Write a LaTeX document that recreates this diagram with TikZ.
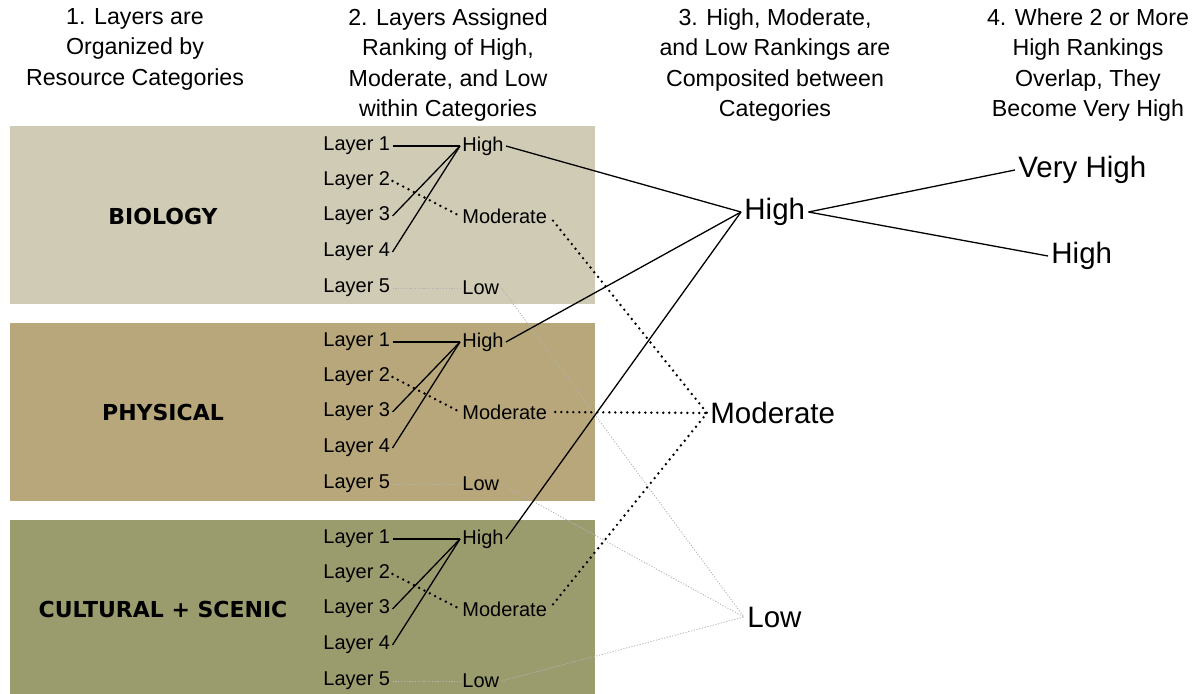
\documentclass[tikz,border=0pt]{standalone}
\usepackage{fontspec}
\setmainfont{Liberation Sans}
\newfontfamily\catfont{DejaVu Sans}
\usepackage{tikz}

\definecolor{biofill}{RGB}{207,203,180}
\definecolor{phyfill}{RGB}{184,167,122}
\definecolor{culfill}{RGB}{155,156,110}

\tikzset{
    layer/.style={anchor=west, inner sep=1pt, font=\fontsize{10}{12}\selectfont},
    ranklabel/.style={anchor=west, inner sep=1pt, font=\fontsize{10}{12}\selectfont},
    comp/.style={anchor=west, inner sep=1.5pt, font=\fontsize{14.75}{17}\selectfont},
    head/.style={anchor=north, align=center, inner sep=0pt, font=\fontsize{11.6}{15.2}\selectfont},
    catlabel/.style={font=\catfont\bfseries\fontsize{11}{13}\selectfont},
    solidlink/.style={line width=0.65pt},
    dotlink/.style={line width=1.35pt, line cap=round, dash pattern=on 0pt off 3pt},
    faintlink/.style={line width=0.4pt, gray!60, dash pattern=on 0.6pt off 0.8pt}
}

\begin{document}
\begin{tikzpicture}[x=0.5pt, y=-0.5pt]
    \useasboundingbox (0,0) rectangle (1199,694);

    % Column headings
    \node[head] (head1) at (135,8) {1. Layers are\\Organized by\\Resource Categories};
    \node[head] (head2) at (448,8) {2. Layers Assigned\\Ranking of High,\\Moderate, and Low\\within Categories};
    \node[head] (head3) at (775,8) {3. High, Moderate,\\and Low Rankings are\\Composited between\\Categories};
    \node[head] (head4) at (1088,8) {4. Where 2 or More\\High Rankings\\Overlap, They\\Become Very High};

    % Category boxes
    \fill[biofill] (10,126) rectangle (595,304);
    \fill[phyfill] (10,323) rectangle (595,501);
    \fill[culfill] (10,520) rectangle (595,694);

    % Composited rankings
    \node[comp] (chigh) at (741,212) {High};
    \node[comp] (cmod) at (707,413) {Moderate};
    \node[comp] (clow) at (744,617) {Low};
    \node[comp] (vhigh) at (1015,170) {Very High};
    \node[comp] (fhigh) at (1048,256) {High};
    \draw[solidlink] (chigh.east) -- (vhigh.west);
    \draw[solidlink] (chigh.east) -- (fhigh.west);

    % Layers and rankings within each category
    \foreach \g/\y/\catname in {b/0/BIOLOGY, p/196/PHYSICAL, c/393/CULTURAL + SCENIC} {
        \node[catlabel] (\g cat) at (163,216+\y) {\catname};
        \foreach \i/\dy in {1/0, 2/35, 3/70, 4/106, 5/142}
            \node[layer] (\g\i) at (321,146+\y+\dy) {Layer \i};
        \node[ranklabel] (\g h) at (460,146+\y) {High};
        \node[ranklabel] (\g m) at (460,216+\y) {Moderate};
        \node[ranklabel] (\g l) at (460,288+\y) {Low};

        \draw[solidlink] (\g1.east) -- (\g h.west);
        \draw[solidlink] (\g3.east) -- (\g h.west);
        \draw[solidlink] (\g4.east) -- (\g h.west);
        \draw[dotlink] (\g2.east) -- (\g m.west);
        \draw[faintlink] (\g5.east) -- (\g l.west);

        \draw[solidlink] (\g h.east) -- (chigh.west);
        \draw[dotlink, shorten <=3pt] (\g m.east) -- (cmod.west);
        \draw[faintlink] (\g l.east) -- (clow.west);
    }
\end{tikzpicture}
\end{document}
